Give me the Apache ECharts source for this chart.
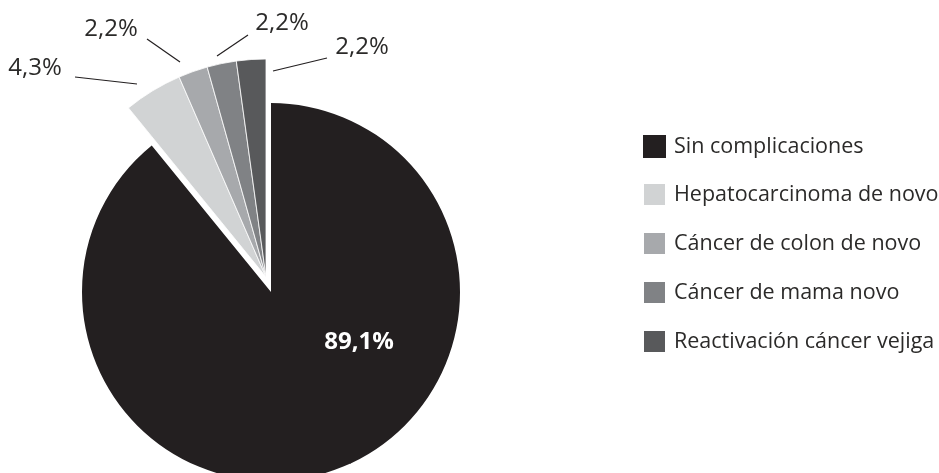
<!DOCTYPE html>
<html>
<head>
<meta charset="utf-8">
<script src="https://cdn.jsdelivr.net/npm/echarts@6/dist/echarts.min.js"></script>
<style>
  html, body { margin: 0; padding: 0; background: #fff; }
  #chart { width: 939px; height: 473px; }
</style>
</head>
<body>
<div id="chart"></div>
<script>
  // datos: pacientes por complicación (n = 46)
  var categories = ['Sin complicaciones', 'Hepatocarcinoma de novo', 'Cáncer de colon de novo', 'Cáncer de mama novo', 'Reactivación cáncer vejiga'];
  var counts = [41, 2, 1, 1, 1];
  var colors = ['#231f20', '#d1d3d4', '#a7a9ac', '#808285', '#58595b'];

  var total = counts.reduce(function (a, b) { return a + b; }, 0);
  var hidden = { color: 'rgba(0,0,0,0)', borderWidth: 0 };

  function pct(p) {
    return p.percent.toFixed(1).replace('.', ',') + '%';
  }

  // sector principal + hueco transparente para el resto
  var mainData = [
    { name: categories[0], value: counts[0], itemStyle: { color: colors[0] } },
    { name: '_resto', value: total - counts[0], itemStyle: hidden, label: { show: false }, labelLine: { show: false }, tooltip: { show: false } }
  ];

  // sectores pequeños separados (hueco para el principal)
  var smallData = [
    { name: '_hueco', value: counts[0], itemStyle: hidden, label: { show: false }, labelLine: { show: false }, tooltip: { show: false } }
  ];
  for (var i = 1; i < categories.length; i++) {
    smallData.push({ name: categories[i], value: counts[i], itemStyle: { color: colors[i] } });
  }

  // posición de etiquetas externas: [texto x, texto y, linea inicio, linea fin]
  var outLabels = {
    1: [35, 68, [75, 77], [137, 84]],
    2: [111, 29, [147, 39], [180, 62]],
    3: [282, 23, [248, 35], [217, 56]],
    4: [362, 47, [327, 58], [273, 71]]
  };

  var chart = echarts.init(document.getElementById('chart'));
  chart.setOption({
    animation: false,
    textStyle: { fontFamily: 'Open Sans' },
    legend: {
      data: categories,
      orient: 'vertical',
      left: 637,
      top: 130,
      icon: 'rect',
      itemWidth: 23,
      itemHeight: 23,
      itemGap: 24,
      textStyle: { fontFamily: 'Open Sans', fontSize: 21.5, color: '#2b2a29', padding: [0, 0, 0, 3] }
    },
    series: [
      {
        type: 'pie',
        center: [271, 292],
        radius: 189,
        startAngle: 90,
        clockwise: true,
        emphasis: { scale: false },
        data: mainData,
        label: {
          show: true,
          position: 'inside',
          formatter: pct,
          color: '#fff',
          fontWeight: 'bold',
          fontSize: 24,
          fontFamily: 'Open Sans'
        },
        labelLayout: function () {
          return { x: 359, y: 342, align: 'center', verticalAlign: 'middle' };
        }
      },
      {
        type: 'pie',
        center: [266, 277],
        radius: 218,
        startAngle: 90,
        clockwise: true,
        emphasis: { scale: false },
        itemStyle: { borderColor: '#fff', borderWidth: 0.8 },
        data: smallData,
        label: {
          show: true,
          position: 'outside',
          formatter: pct,
          color: '#2b2a29',
          fontSize: 24,
          fontFamily: 'Open Sans'
        },
        labelLine: { show: true, length: 10, length2: 10, lineStyle: { color: '#231f20', width: 1.2 } },
        labelLayout: function (p) {
          var o = outLabels[p.dataIndex];
          if (!o) return {};
          return {
            x: o[0], y: o[1], align: 'center', verticalAlign: 'middle',
            labelLinePoints: [o[3], o[2], o[2]]
          };
        }
      }
    ]
  });
</script>
</body>
</html>
